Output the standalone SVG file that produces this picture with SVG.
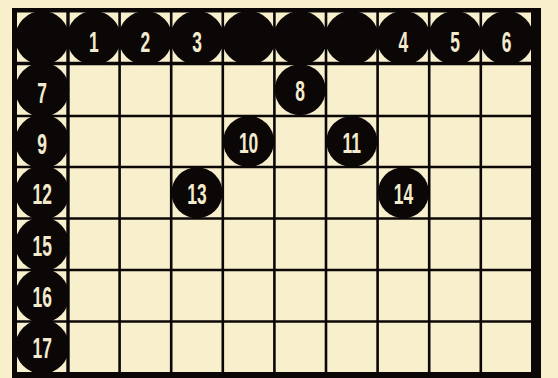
<svg xmlns="http://www.w3.org/2000/svg" width="558" height="378" viewBox="0 0 558 378">
<style>
.bg{fill:#f8efcd}
.frame{fill:#0b0707}
.grid line{stroke:#0b0707;stroke-width:2.6}
.dot{fill:#0b0707}
.num{font-family:"Liberation Sans",Arial,sans-serif;font-weight:bold;font-size:29px;fill:#f4ebcf;text-anchor:middle}
</style>
<rect class="bg" x="0" y="0" width="558" height="378"/>
<g id="grid" class="grid">
<line x1="68" y1="12" x2="68" y2="372" style="stroke-width:3.4"/>
<line x1="119.6" y1="12" x2="119.6" y2="372"/>
<line x1="171.2" y1="12" x2="171.2" y2="372"/>
<line x1="222.8" y1="12" x2="222.8" y2="372"/>
<line x1="274.4" y1="12" x2="274.4" y2="372"/>
<line x1="326" y1="12" x2="326" y2="372"/>
<line x1="377.6" y1="12" x2="377.6" y2="372"/>
<line x1="429.2" y1="12" x2="429.2" y2="372"/>
<line x1="480.8" y1="12" x2="480.8" y2="372"/>
<line x1="17" y1="63.5" x2="531" y2="63.5" style="stroke-width:3.4"/>
<line x1="17" y1="116" x2="531" y2="116"/>
<line x1="17" y1="167" x2="531" y2="167"/>
<line x1="17" y1="218.5" x2="531" y2="218.5"/>
<line x1="17" y1="270" x2="531" y2="270"/>
<line x1="17" y1="321.5" x2="531" y2="321.5"/>
</g>
<g id="frame">
<rect class="frame" x="12" y="8" width="529" height="4.5"/>
<rect class="frame" x="12" y="8" width="5" height="370"/>
<rect class="frame" x="531" y="8" width="10" height="370"/>
<rect class="frame" x="12" y="372" width="529" height="6"/>
</g>
<g id="top-row">
<g id="t0"><circle class="dot" cx="42.2" cy="38" r="27"/></g>
<g id="n1"><circle class="dot" cx="93.8" cy="38" r="27"/><text class="num" transform="translate(93.8 51.5) scale(0.6 1)">1</text></g>
<g id="n2"><circle class="dot" cx="145.4" cy="38" r="27"/><text class="num" transform="translate(145.4 51.5) scale(0.6 1)">2</text></g>
<g id="n3"><circle class="dot" cx="197" cy="38" r="27"/><text class="num" transform="translate(197 51.5) scale(0.6 1)">3</text></g>
<g id="t4"><circle class="dot" cx="248.6" cy="38" r="27"/></g>
<g id="t5"><circle class="dot" cx="300.2" cy="38" r="27"/></g>
<g id="t6"><circle class="dot" cx="351.8" cy="38" r="27"/></g>
<g id="n4"><circle class="dot" cx="403.4" cy="38" r="27"/><text class="num" transform="translate(403.4 51.5) scale(0.6 1)">4</text></g>
<g id="n5"><circle class="dot" cx="455" cy="38" r="27"/><text class="num" transform="translate(455 51.5) scale(0.6 1)">5</text></g>
<g id="n6"><circle class="dot" cx="506.6" cy="38" r="27"/><text class="num" transform="translate(506.6 51.5) scale(0.6 1)">6</text></g>
</g>
<g id="left-col">
<g id="n7"><circle class="dot" cx="42.2" cy="89.75" r="27"/><text class="num" transform="translate(42.2 102.5) scale(0.6 1)">7</text></g>
<g id="n9"><circle class="dot" cx="42.2" cy="141.5" r="27"/><text class="num" transform="translate(42.2 153.5) scale(0.6 1)">9</text></g>
<g id="n12"><circle class="dot" cx="42.2" cy="192.75" r="27"/><text class="num" transform="translate(42.2 204) scale(0.6 1)">12</text></g>
<g id="n15"><circle class="dot" cx="42.2" cy="244.25" r="27"/><text class="num" transform="translate(42.2 255.5) scale(0.6 1)">15</text></g>
<g id="n16"><circle class="dot" cx="42.2" cy="295.75" r="27"/><text class="num" transform="translate(42.2 307) scale(0.6 1)">16</text></g>
<g id="n17"><circle class="dot" cx="42.2" cy="346.75" r="27"/><text class="num" transform="translate(42.2 358) scale(0.6 1)">17</text></g>
</g>
<g id="inner">
<g id="n8"><circle class="dot" cx="300.2" cy="89.75" r="25.5"/><text class="num" transform="translate(300.2 100.5) scale(0.6 1)">8</text></g>
<g id="n10"><circle class="dot" cx="248.6" cy="141.5" r="25.5"/><text class="num" transform="translate(248.6 152.5) scale(0.6 1)">10</text></g>
<g id="n11"><circle class="dot" cx="351.8" cy="141.5" r="25.5"/><text class="num" transform="translate(351.8 152.5) scale(0.6 1)">11</text></g>
<g id="n13"><circle class="dot" cx="197" cy="192.75" r="25.5"/><text class="num" transform="translate(197 203.5) scale(0.6 1)">13</text></g>
<g id="n14"><circle class="dot" cx="403.4" cy="192.75" r="25.5"/><text class="num" transform="translate(403.4 203.5) scale(0.6 1)">14</text></g>
</g>
<g id="connectors"/>
</svg>
